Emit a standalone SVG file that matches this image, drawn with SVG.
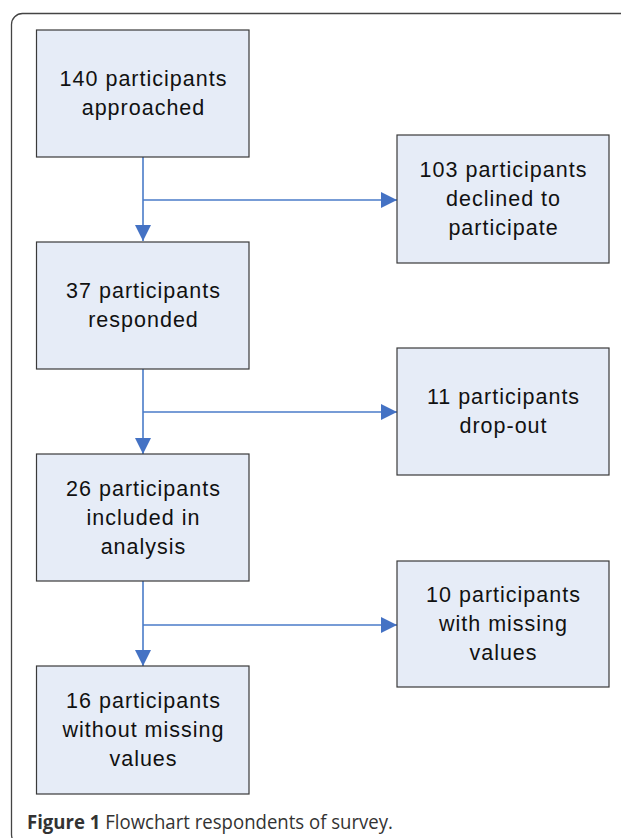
<svg xmlns="http://www.w3.org/2000/svg" width="621" height="838" viewBox="0 0 621 838">
<style>
.box{fill:#e6ecf7;stroke:#3a3a3a;stroke-width:1.2}
.t{font-family:"Liberation Sans",Arial,sans-serif;font-size:21.5px;letter-spacing:1px;fill:#111;text-anchor:middle}
.c{stroke:#4a7bc8;stroke-width:1.6;fill:none}
.cap{font-family:"Open Sans",sans-serif;font-size:19.5px;fill:#333}
</style>
<defs>
<marker id="ah" markerWidth="16" markerHeight="16" refX="16" refY="8" orient="auto" markerUnits="userSpaceOnUse">
<path d="M0,0 L16,8 L0,16 Z" fill="#4472c4"/>
</marker>
</defs>
<rect x="11.5" y="13.5" width="640" height="832" rx="11" fill="#fff" stroke="#444" stroke-width="1.3"/>
<g id="connectors">
<path class="c" d="M143,157 V241" marker-end="url(#ah)"/>
<path class="c" d="M143,200 H397" marker-end="url(#ah)"/>
<path class="c" d="M143,369 V454" marker-end="url(#ah)"/>
<path class="c" d="M143,412 H397" marker-end="url(#ah)"/>
<path class="c" d="M143,581 V666" marker-end="url(#ah)"/>
<path class="c" d="M143,625 H397" marker-end="url(#ah)"/>
</g>
<g id="n1"><rect class="box" x="36.5" y="30" width="212.5" height="127"/>
<text class="t" x="143.5" y="86">140 participants</text><text class="t" x="143.5" y="115">approached</text></g>
<g id="n2"><rect class="box" x="397" y="135" width="212" height="128"/>
<text class="t" x="503.5" y="177">103 participants</text><text class="t" x="503.5" y="206">declined to</text><text class="t" x="503.5" y="235">participate</text></g>
<g id="n3"><rect class="box" x="36.5" y="242" width="212.5" height="127"/>
<text class="t" x="143.5" y="298">37 participants</text><text class="t" x="143.5" y="327">responded</text></g>
<g id="n4"><rect class="box" x="397" y="348" width="212" height="127"/>
<text class="t" x="503.5" y="404">11 participants</text><text class="t" x="503.5" y="433">drop-out</text></g>
<g id="n5"><rect class="box" x="36.5" y="454" width="212.5" height="127"/>
<text class="t" x="143.5" y="495.5">26 participants</text><text class="t" x="143.5" y="524.5">included in</text><text class="t" x="143.5" y="553.5">analysis</text></g>
<g id="n6"><rect class="box" x="397" y="561" width="212" height="126"/>
<text class="t" x="503.5" y="602">10 participants</text><text class="t" x="503.5" y="631">with missing</text><text class="t" x="503.5" y="660">values</text></g>
<g id="n7"><rect class="box" x="36.5" y="666" width="212.5" height="128"/>
<text class="t" x="143.5" y="708">16 participants</text><text class="t" x="143.5" y="737">without missing</text><text class="t" x="143.5" y="766">values</text></g>
<text class="cap" x="27" y="829" textLength="366" lengthAdjust="spacingAndGlyphs"><tspan font-weight="bold">Figure 1</tspan> Flowchart respondents of survey.</text>
</svg>
